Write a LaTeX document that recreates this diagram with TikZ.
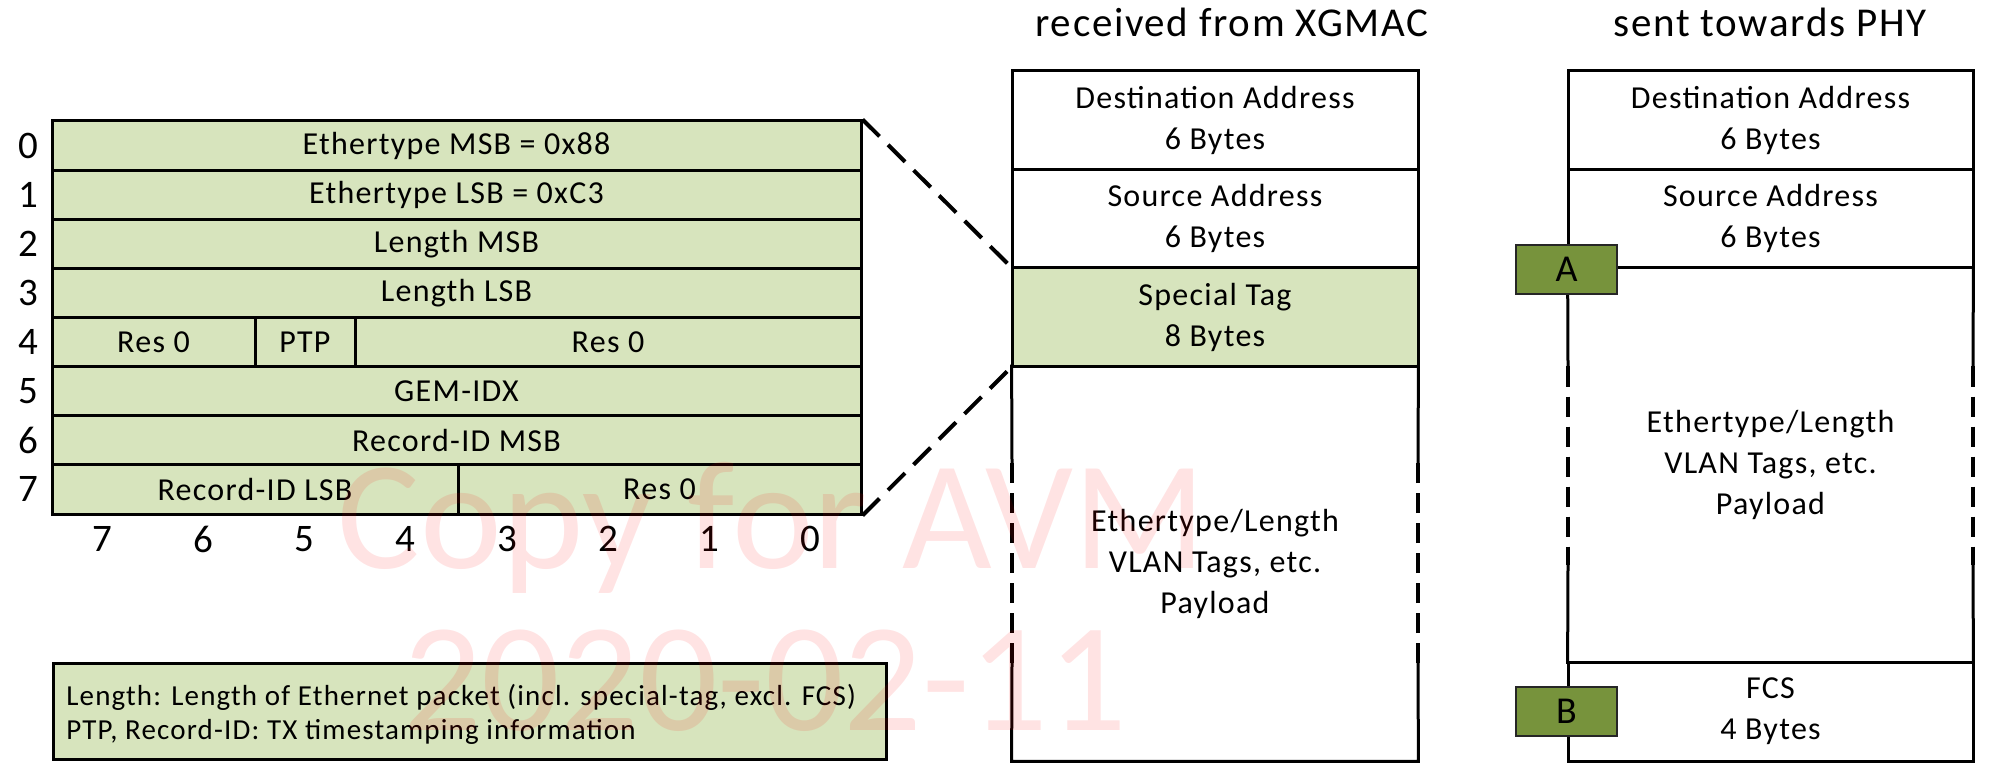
\documentclass[tikz,border=0pt]{standalone}
\usepackage{fontspec}
\setmainfont{Carlito}[LetterSpace=4.0]
\newfontfamily\wmfont{Carlito}
\usetikzlibrary{calc}
\definecolor{taggreen}{RGB}{215,228,189}
\definecolor{markgreen}{RGB}{119,147,60}
\tikzset{
  frame/.style={line width=1.5pt, line cap=rect},
  vdash/.style={line width=2pt, dash pattern=on 10pt off 5pt},
  zoomline/.style={line width=2pt, dash pattern=on 12pt off 6pt},
  cell/.style={draw, line width=1.5pt, fill=taggreen, inner sep=0pt,
    align=center, font=\fontsize{16}{20.5}\selectfont},
  wcell/.style={cell, fill=white},
  open/.style={inner sep=0pt, align=center, font=\fontsize{16}{20.5}\selectfont},
  marker/.style={draw=black!85, line width=1pt, fill=markgreen, inner sep=0pt,
    minimum width=50.5pt, minimum height=24.5pt, font=\fontsize{19}{22}\selectfont},
  title/.style={anchor=base, font=\fontsize{20.5}{24}\selectfont},
  idx/.style={font=\fontsize{19.5}{22}\selectfont},
  wmark/.style={anchor=base, text=red, text opacity=0.11,
    font=\wmfont\fontsize{77.5}{80}\selectfont},
}
% a box given by its corners (in pixel units): style, name, x1, y1, x2, y2, text
\newcommand\boxcell[7]{%
  \node[#1, minimum width={(#5-#3)*0.5pt}, minimum height={(#6-#4)*0.5pt}]
    (#2) at ({(#3+#5)/2},{(#4+#6)/2}) {#7};}
\begin{document}
\begin{tikzpicture}[x=0.5pt, y=-0.5pt]
\useasboundingbox (0,0) rectangle (1990,764);

% ---- special tag layout, one byte per row ----
\boxcell{cell}{r0}{52}{121}{861}{170.1}{Ethertype MSB = 0x88}
\boxcell{cell}{r1}{52}{170.1}{861}{219.3}{Ethertype LSB = 0xC3}
\boxcell{cell}{r2}{52}{219.3}{861}{268.4}{Length MSB}
\boxcell{cell}{r3}{52}{268.4}{861}{317.5}{Length LSB}
\boxcell{cell}{r4a}{52}{317.5}{255}{366.6}{Res 0}
\boxcell{cell}{r4b}{255}{317.5}{355}{366.6}{PTP}
\boxcell{cell}{r4c}{355}{317.5}{861}{366.6}{Res 0}
\boxcell{cell}{r5}{52}{366.6}{861}{415.8}{GEM-IDX}
\boxcell{cell}{r6}{52}{415.8}{861}{464.9}{Record-ID MSB}
\boxcell{cell}{r7a}{52}{464.9}{458}{514}{Record-ID LSB}
\boxcell{cell}{r7b}{458}{464.9}{861}{514}{Res 0}

% byte numbers
\foreach \i/\y in {0/145.5,1/194.7,2/243.8,3/293,4/342,5/391.2,6/440.3,7/489.4}
  \node[idx] (byte\i) at (28,\y) {\i};
% bit numbers
\foreach \b [count=\k from 0] in {7,6,5,4,3,2,1,0}
  \node[idx] (bit\b) at ({102.5+101.1*\k},539) {\b};

% ---- legend ----
\boxcell{cell}{legend}{53}{663}{886}{759}{}
\node[anchor=west, align=left, inner sep=0pt,
      font=\fontsize{14.5}{17}\selectfont] (legendtext) at (66,714)
  {Length: Length of Ethernet packet (incl. special-tag, excl. FCS)\\
   PTP, Record-ID: TX timestamping information};

% ---- frame as received from the XGMAC ----
\node[title] (rxtitle) at (1232,37) {received from XGMAC};
\boxcell{wcell}{rxda}{1012}{71}{1418}{169.5}{Destination Address\\6 Bytes}
\boxcell{wcell}{rxsa}{1012}{169.5}{1418}{268}{Source Address\\6 Bytes}
\boxcell{cell}{rxst}{1012}{268}{1418}{366.5}{Special Tag\\8 Bytes}
\boxcell{open}{rxpl}{1012}{366.5}{1418}{761}{Ethertype/Length\\VLAN Tags, etc.\\Payload}
\coordinate (rxl1) at (1012,463);
\coordinate (rxl2) at (1012,663);
\coordinate (rxr1) at (1418,463);
\coordinate (rxr2) at (1418,663);
\draw[frame] (rxpl.north west) -- (rxl1);
\draw[vdash] (rxl1) -- (rxl2);
\draw[frame] (rxl2) -- (rxpl.south west) -- (rxpl.south east) -- (rxr2);
\draw[vdash] (rxr2) -- (rxr1);
\draw[frame] (rxr1) -- (rxpl.north east);

% ---- frame as sent towards the PHY ----
\node[title] (txtitle) at (1770,37) {sent towards PHY};
\boxcell{wcell}{txda}{1568}{71}{1973}{169.5}{Destination Address\\6 Bytes}
\boxcell{wcell}{txsa}{1568}{169.5}{1973}{268}{Source Address\\6 Bytes}
\boxcell{open}{txpl}{1568}{268}{1973}{662}{Ethertype/Length\\VLAN Tags, etc.\\Payload}
\boxcell{wcell}{txfcs}{1568}{662}{1973}{761}{FCS\\4 Bytes}
\coordinate (txl1) at (1568,366.5);
\coordinate (txl2) at (1568,565);
\coordinate (txr1) at (1973,366.5);
\coordinate (txr2) at (1973,565);
\draw[frame] (txpl.north west) -- (txl1);
\draw[vdash] (txl1) -- (txl2);
\draw[frame] (txl2) -- (txpl.south west);
\draw[frame] (txpl.north east) -- (txr1);
\draw[vdash] (txr1) -- (txr2);
\draw[frame] (txr2) -- (txpl.south east);

% insertion points
\node[marker] (markA) at (txsa.south west) {A};
\node[marker] (markB) at (txfcs.west) {B};

% zoom lines from the tag layout to the special tag field
\draw[zoomline] (r0.north east) -- (rxst.north west);
\draw[zoomline] (r7b.south east) -- (rxst.south west);

% ---- watermark ----
\node[wmark] (wm1) at (772,568) {Copy for AVM};
\node[wmark] (wm2) at (765,730) {2020-02-11};
\end{tikzpicture}
\end{document}
